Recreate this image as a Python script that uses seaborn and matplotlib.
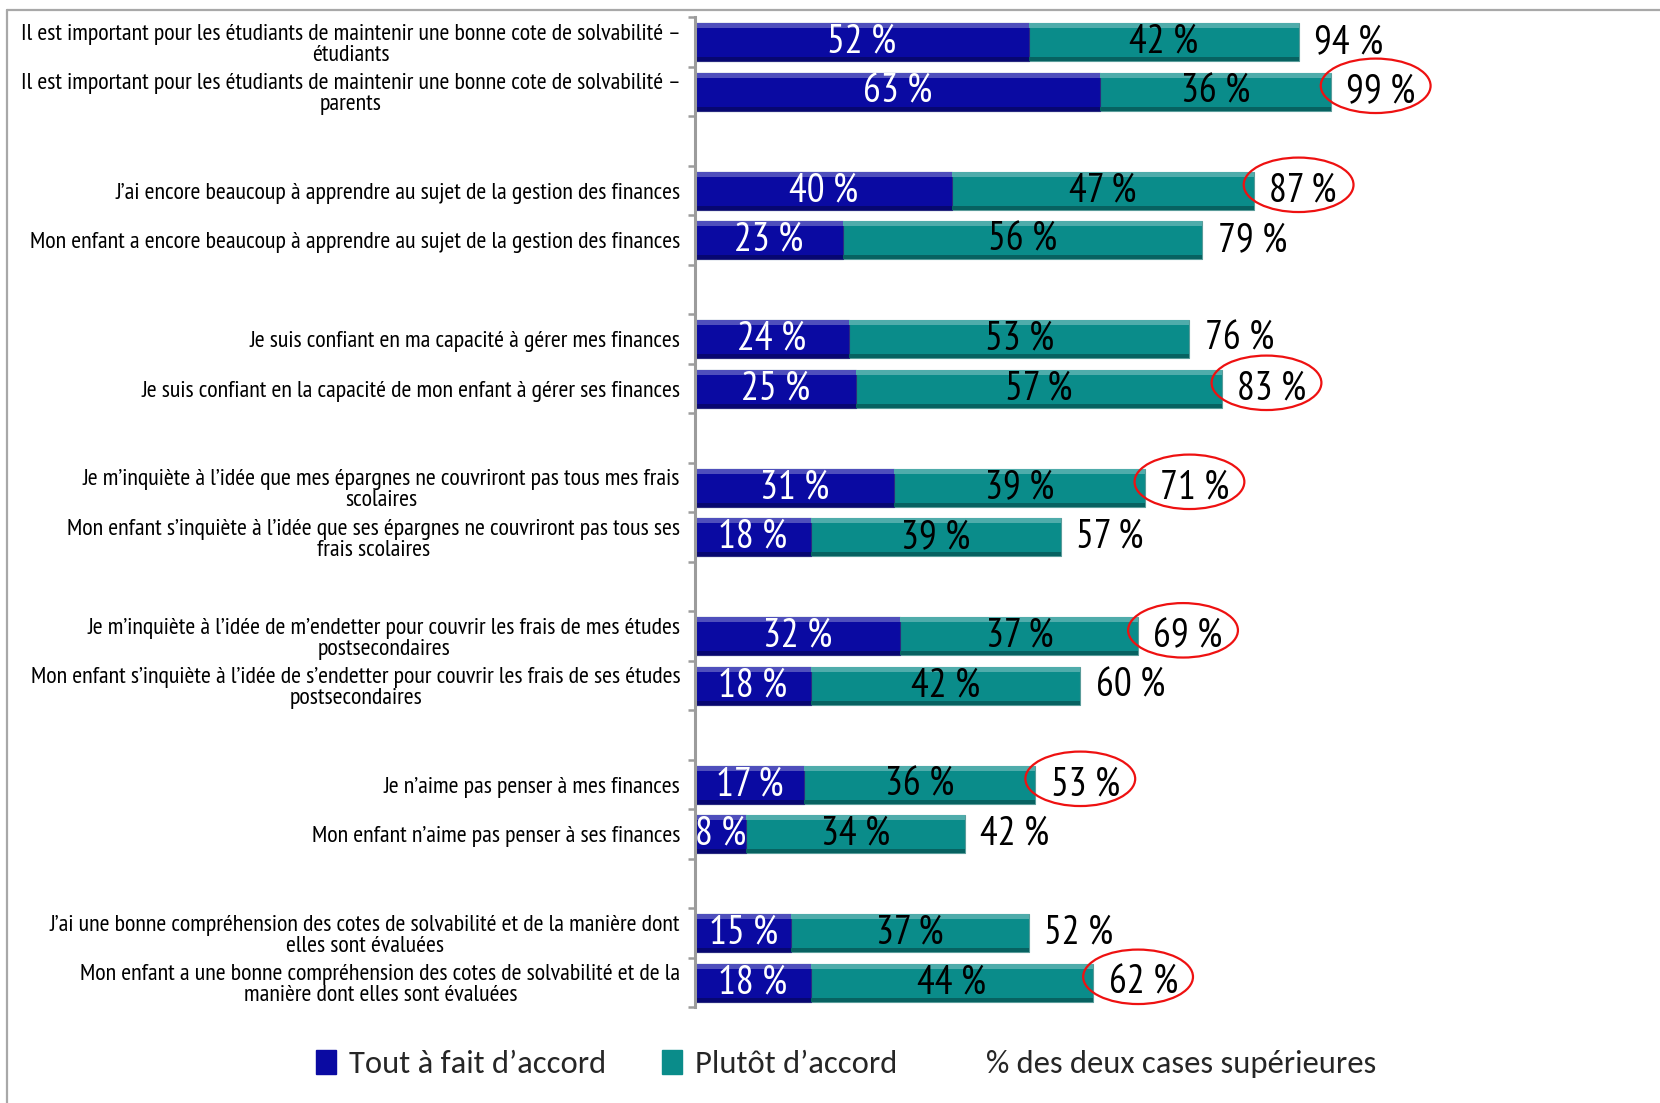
import numpy as np
import pandas as pd
import matplotlib
matplotlib.use("Agg")
import matplotlib.pyplot as plt
import seaborn as sns
from matplotlib import font_manager
from matplotlib.patches import Ellipse, Patch, Rectangle
from matplotlib.lines import Line2D
from matplotlib.colors import to_rgb

# ---------------- data ----------------
statements = [
    "Il est important pour les étudiants de maintenir une bonne cote de solvabilité –\nétudiants",
    "Il est important pour les étudiants de maintenir une bonne cote de solvabilité –\nparents",
    "J’ai encore beaucoup à apprendre au sujet de la gestion des finances",
    "Mon enfant a encore beaucoup à apprendre au sujet de la gestion des finances",
    "Je suis confiant en ma capacité à gérer mes finances",
    "Je suis confiant en la capacité de mon enfant à gérer ses finances",
    "Je m’inquiète à l’idée que mes épargnes ne couvriront pas tous mes frais\nscolaires",
    "Mon enfant s’inquiète à l’idée que ses épargnes ne couvriront pas tous ses\nfrais scolaires",
    "Je m’inquiète à l’idée de m’endetter pour couvrir les frais de mes études\npostsecondaires",
    "Mon enfant s’inquiète à l’idée de s’endetter pour couvrir les frais de ses études\npostsecondaires",
    "Je n’aime pas penser à mes finances",
    "Mon enfant n’aime pas penser à ses finances",
    "J’ai une bonne compréhension des cotes de solvabilité et de la manière dont\nelles sont évaluées",
    "Mon enfant a une bonne compréhension des cotes de solvabilité et de la\nmanière dont elles sont évaluées",
]
tout_a_fait = [52, 63, 40, 23, 24, 25, 31, 18, 32, 18, 17, 8, 15, 18]
plutot = [42, 36, 47, 56, 53, 57, 39, 39, 37, 42, 36, 34, 37, 44]
deux_cases = [94, 99, 87, 79, 76, 83, 71, 57, 69, 60, 53, 42, 52, 62]
highlighted = [False, True, True, False, False, True, True, False, True, False, True, False, False, True]
legend_labels = ["Tout à fait d’accord", "Plutôt d’accord", "% des deux cases supérieures"]

BLUE = "#0A0AA2"
TEAL = "#0A8C8A"
GRAY = "#9c9c9c"

# ---------------- fonts ----------------
sns.set_theme(style="white")
names = {f.name for f in font_manager.fontManager.ttflist}


def pick(cands, default="DejaVu Sans"):
    for c in cands:
        if c in names:
            return c
    return default


narrow = pick(["Arial Narrow", "Liberation Sans Narrow", "PT Sans Narrow", "Archivo Narrow",
               "Roboto Condensed", "Open Sans Condensed", "IBM Plex Sans Condensed"])
legend_font = pick(["Calibri", "Carlito", "Lato", "Open Sans"])
plt.rcParams["font.family"] = [narrow, "DejaVu Sans"]

# ---------------- slot order (pairs separated by blank slots) ----------------
order = []
for i, s in enumerate(statements):
    if i > 0 and i % 2 == 0:
        order.append(" " * (i // 2))
    order.append(s)

df = pd.DataFrame({
    "statement": statements,
    "tout": tout_a_fait,
    "cumul": np.add(tout_a_fait, plutot),
})

fig = plt.figure(figsize=(16.6, 11.03), dpi=100)
W, H = 1660, 1103
ax = fig.add_axes([695 / W, 1 - 1007.5 / H, 899 / W, 990 / H])

sns.barplot(data=df, y="statement", x="cumul", order=order, color=TEAL,
            saturation=1, width=0.77, errorbar=None, orient="h", ax=ax,
            edgecolor="#5a9c9a", linewidth=0.8)
sns.barplot(data=df, y="statement", x="tout", order=order, color=BLUE,
            saturation=1, width=0.77, errorbar=None, orient="h", ax=ax,
            edgecolor="#2a2a80", linewidth=0.8)

# bevel-like shading on each drawn bar (derived from the bars seaborn produced)
for p in list(ax.patches):
    if not isinstance(p, Rectangle) or p.get_width() <= 0:
        continue
    x0, y0, w, h = p.get_x(), p.get_y(), p.get_width(), p.get_height()
    c = np.array(to_rgb(p.get_facecolor()))
    light = c + (1 - c) * 0.28
    dark = c * 0.7
    ax.add_patch(Rectangle((x0, y0), w, h * 0.13, facecolor=light, edgecolor="none", zorder=p.get_zorder()))
    ax.add_patch(Rectangle((x0, y0 + h * 0.9), w, h * 0.1, facecolor=dark, edgecolor="none", zorder=p.get_zorder()))

ax.set_xlim(0, 140)
ax.set_ylim(len(order) - 0.5, -0.5)

NUM = 28.5
for i, s in enumerate(statements):
    y = order.index(s)
    a, b = tout_a_fait[i], plutot[i]
    ax.text(a / 2, y, f"{a} %", color="white", ha="center", va="center", fontsize=NUM, zorder=6)
    ax.text(a + b / 2, y, f"{b} %", color="black", ha="center", va="center", fontsize=NUM, zorder=6)
    ax.text(a + b + 2.4, y, f"{deux_cases[i]} %", color="black", ha="left", va="center", fontsize=NUM)
    if highlighted[i]:
        ax.add_patch(Ellipse((a + b + 7.0, y - 0.12), width=17.1, height=1.1,
                             fill=False, edgecolor="#ee1111", linewidth=1.6, zorder=5))

# axes styling
for sp in ["top", "right", "bottom"]:
    ax.spines[sp].set_visible(False)
ax.spines["left"].set_color(GRAY)
ax.spines["left"].set_linewidth(2.2)
ax.spines["left"].set_zorder(7)
ax.set_xticks([])
ax.set_xlabel("")
ax.set_ylabel("")
ax.set_yticks(np.arange(-0.5, len(order)), minor=True)
ax.tick_params(axis="y", which="major", length=0, pad=10.5, labelsize=17.3)
ax.tick_params(axis="y", which="minor", left=True, length=5, width=1.8, color=GRAY, direction="out")
for t in ax.get_yticklabels():
    t.set_multialignment("center")
    t.set_linespacing(1.0)
    t.set_color("black")

# legend
handles = [Patch(facecolor=BLUE, edgecolor=BLUE), Patch(facecolor=TEAL, edgecolor=TEAL),
           Patch(facecolor="none", edgecolor="none")]
fig.legend(handles, legend_labels, loc="center", bbox_to_anchor=(0.5096, 0.0354), ncol=3,
           frameon=False, prop={"family": legend_font, "size": 23.5},
           handlelength=0.62, handleheight=0.75, handletextpad=0.4, columnspacing=1.7)

# outer frame lines
fig.add_artist(Line2D([6.5 / W, 1], [1 - 9.5 / H, 1 - 9.5 / H], transform=fig.transFigure,
                      color="#a8a8a8", linewidth=1.6))
fig.add_artist(Line2D([6.5 / W, 6.5 / W], [0, 1 - 9.5 / H], transform=fig.transFigure,
                      color="#a8a8a8", linewidth=1.6))

fig.savefig("out.png", dpi=100)
